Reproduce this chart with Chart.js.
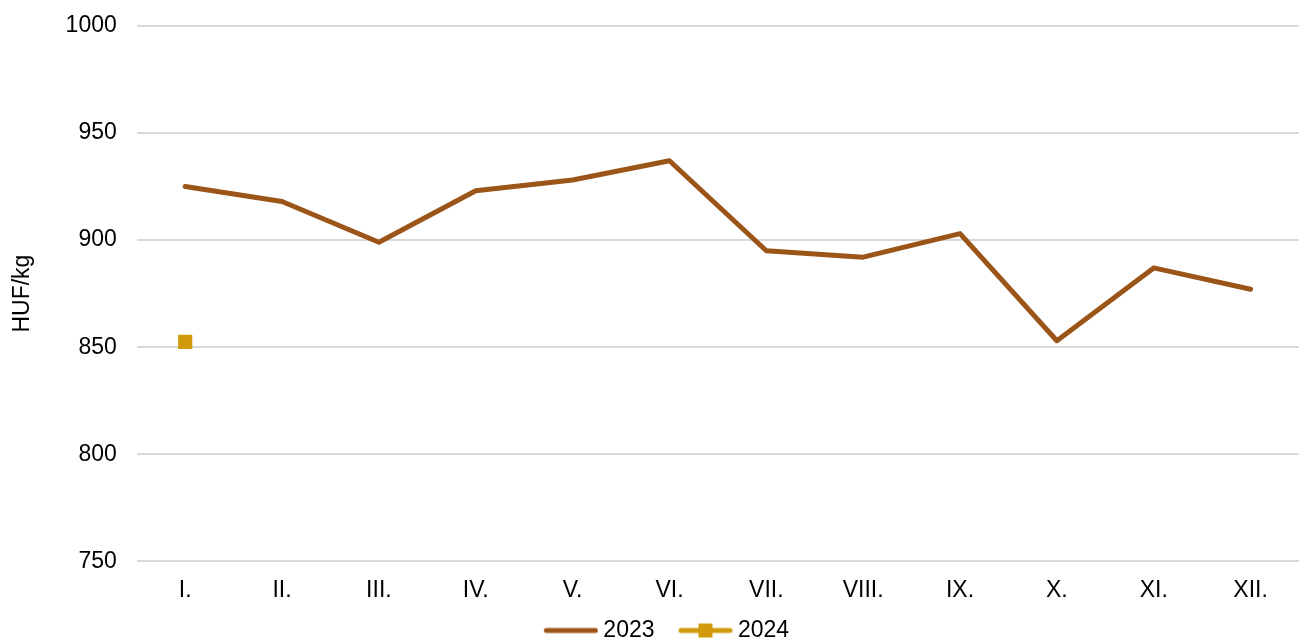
<!DOCTYPE html>
<html>
<head>
<meta charset="utf-8">
<script src="https://cdn.jsdelivr.net/npm/chart.js@4/dist/chart.umd.min.js"></script>
<style>
	html, body { margin: 0; padding: 0; background: #fff; overflow: hidden; }
	#wrap { width: 1299px; height: 639px; overflow: hidden; }
	canvas { display: block; margin-top: -8px; }
</style>
</head>
<body>
<div id="wrap"><canvas id="chart" width="1309" height="649"></canvas></div>
<script>

const months = [ 'I.', 'II.', 'III.', 'IV.', 'V.', 'VI.', 'VII.', 'VIII.', 'IX.', 'X.', 'XI.', 'XII.' ];
const prices2023 = [ 925, 918, 899, 923, 928, 937, 895, 892, 903, 853, 887, 877 ];
const prices2024 = [ 852.5 ];

const colour2023 = '#9c5518';
const colour2024 = '#d09a0a';

// legend swatch: line (and marker) drawn into a small canvas, offset to the right of its centre
function legendSwatch ( colour, marker ) {

	const c = document.createElement( 'canvas' );
	c.width = 88;
	c.height = 16;
	const ctx = c.getContext( '2d' );
	ctx.strokeStyle = colour;
	ctx.lineWidth = 5;
	ctx.lineCap = 'round';
	ctx.beginPath();
	ctx.moveTo( 34.5, 8 );
	ctx.lineTo( 83.5, 8 );
	ctx.stroke();

	if ( marker ) {

		ctx.fillStyle = colour;
		ctx.fillRect( 52, 1, 14, 14 );

	}

	return c;

}

const swatches = [ legendSwatch( colour2023, false ), legendSwatch( colour2024, true ) ];

Chart.defaults.font.family = '"Liberation Sans", Arial, sans-serif';
Chart.defaults.color = '#000';

new Chart( document.getElementById( 'chart' ), {
	type: 'line',
	data: {
		labels: months,
		datasets: [ {
			label: '2023',
			data: prices2023,
			borderColor: colour2023,
			backgroundColor: colour2023,
			borderWidth: 5,
			pointRadius: 0,
			borderCapStyle: 'round',
			borderJoinStyle: 'round',
			tension: 0
		}, {
			label: '2024',
			data: prices2024,
			borderColor: colour2024,
			backgroundColor: colour2024,
			borderWidth: 5,
			pointStyle: 'rect',
			pointRadius: 10,
			pointBorderWidth: 0
		} ]
	},
	options: {
		responsive: false,
		animation: false,
		layout: {
			padding: { top: 0, right: 0, bottom: -11, left: 0 }
		},
		scales: {
			x: {
				offset: true,
				grid: { display: false, drawTicks: false },
				border: { display: false },
				ticks: { font: { size: 23 }, padding: 15, maxRotation: 0 }
			},
			y: {
				min: 750,
				max: 1000,
				ticks: { stepSize: 50, font: { size: 23 }, padding: 20, callback: v => String( v ) },
				grid: { color: '#d9d9d9', lineWidth: 2, drawTicks: false },
				border: { display: false },
				title: {
					display: true,
					text: 'HUF/kg',
					font: { size: 23 },
					padding: { top: 9, bottom: 9 }
				}
			}
		},
		plugins: {
			legend: {
				position: 'bottom',
				labels: {
					usePointStyle: true,
					pointStyleWidth: 72,
					font: { size: 23 },
					padding: 0,
					generateLabels: chart => chart.data.datasets.map( ( ds, i ) => ( {
						text: ds.label,
						pointStyle: swatches[ i ],
						fillStyle: ds.borderColor,
						strokeStyle: ds.borderColor,
						lineWidth: 0,
						datasetIndex: i
					} ) )
				}
			},
			tooltip: { enabled: false }
		}
	}
} );

</script>
</body>
</html>
